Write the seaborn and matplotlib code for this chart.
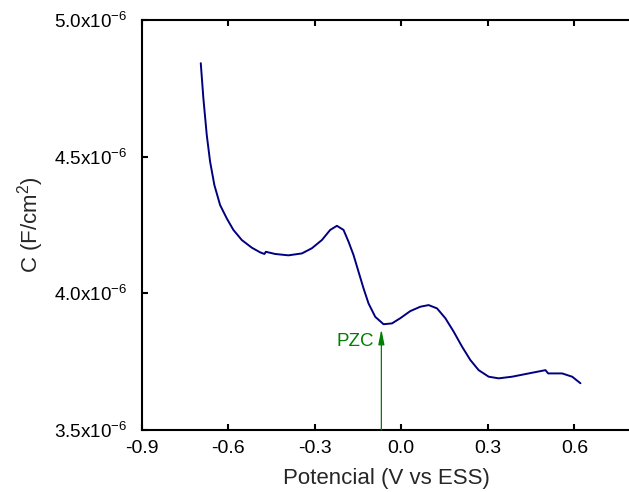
import numpy as np
import matplotlib
matplotlib.use("Agg")
import matplotlib.pyplot as plt
import seaborn as sns
import pandas as pd

# Potential (V vs ESS)
potential = [-0.6952, -0.6862, -0.6744, -0.6629, -0.6480, -0.6282, -0.6050, -0.5821,
             -0.5529, -0.5182, -0.4894, -0.4745, -0.4696, -0.4373, -0.3912, -0.3446,
             -0.3099, -0.2752, -0.2464, -0.2232, -0.2002, -0.1829, -0.1655, -0.1482,
             -0.1308, -0.1135, -0.0902, -0.0614, -0.0323, -0.0034, 0.0313, 0.0660,
             0.0948, 0.1239, 0.1528, 0.1816, 0.2107, 0.2395, 0.2683, 0.3031,
             0.3378, 0.3843, 0.4419, 0.4999, 0.5093, 0.5578, 0.5926, 0.6213]
# Capacitance in units of 1e-6 F/cm^2
cap_micro = [4.842, 4.714, 4.579, 4.482, 4.396, 4.323, 4.274, 4.232,
             4.195, 4.167, 4.150, 4.144, 4.152, 4.144, 4.139, 4.146,
             4.165, 4.195, 4.232, 4.247, 4.232, 4.189, 4.140, 4.079,
             4.018, 3.963, 3.914, 3.887, 3.890, 3.909, 3.935, 3.951,
             3.957, 3.945, 3.909, 3.860, 3.805, 3.756, 3.719, 3.695,
             3.689, 3.695, 3.707, 3.719, 3.707, 3.707, 3.695, 3.671]

x_ticks = [-0.9, -0.6, -0.3, 0.0, 0.3, 0.6]
x_ticklabels = ["-0.9", "-0.6", "-0.3", "0.0", "0.3", "0.6"]
y_ticks_micro = [3.5, 4.0, 4.5, 5.0]
y_ticklabels = [r"$\mathregular{3.5x10^{-6}}$", r"$\mathregular{4.0x10^{-6}}$",
                r"$\mathregular{4.5x10^{-6}}$", r"$\mathregular{5.0x10^{-6}}$"]

pzc_x = -0.069
pzc_top = 3.869
pzc_label_xy = (-0.096, 3.825)

sns.set_style("ticks")
plt.rcParams["font.family"] = ["Liberation Sans", "DejaVu Sans"]
plt.rcParams["mathtext.fontset"] = "custom"
plt.rcParams["mathtext.rm"] = "Liberation Sans"
plt.rcParams["mathtext.it"] = "Liberation Sans:italic"
plt.rcParams["mathtext.bf"] = "Liberation Sans:bold"

fig = plt.figure(figsize=(6.29, 4.92), dpi=100)
ax = fig.add_axes([141.7 / 629, 1 - 430 / 492, (632 - 141.7) / 629, (430 - 20) / 492])

df = pd.DataFrame({"V": potential, "C": np.array(cap_micro) * 1e-6})
sns.lineplot(data=df, x="V", y="C", ax=ax, color="#000080", lw=1.4,
             estimator=None, sort=False, solid_joinstyle="round",
             solid_capstyle="round")

ax.annotate("", xy=(pzc_x, pzc_top * 1e-6), xytext=(pzc_x, 3.5e-6),
            arrowprops=dict(arrowstyle="-|>,head_length=0.9,head_width=0.18",
                            color="#008000", lw=0.9, mutation_scale=10,
                            shrinkA=0, shrinkB=0))
ax.text(pzc_label_xy[0], pzc_label_xy[1] * 1e-6, "PZC", color="#008000",
        fontsize=13.5, ha="right", va="center")

ax.set_xlim(-0.9, 0.8)
ax.set_ylim(3.5e-6, 5.0e-6)
ax.set_xticks(x_ticks)
ax.set_xticklabels(x_ticklabels)
ax.set_yticks(np.array(y_ticks_micro) * 1e-6)
ax.set_yticklabels(y_ticklabels)

for s in ["left", "bottom", "top", "right"]:
    ax.spines[s].set_visible(True)
    ax.spines[s].set_linewidth(1.5)
    ax.spines[s].set_color("black")

ax.tick_params(axis="both", direction="in", length=4.5, width=1.5, colors="black")
ax.tick_params(axis="x", top=True, pad=7, labelsize=14)
ax.tick_params(axis="y", pad=10, labelsize=13.6)

ax.set_xlabel("Potencial (V vs ESS)", fontsize=16, labelpad=8)
ax.set_ylabel(r"C (F/cm$\mathregular{^2}$)", fontsize=16, labelpad=6)

fig.savefig("out.png", dpi=100, facecolor="white")
